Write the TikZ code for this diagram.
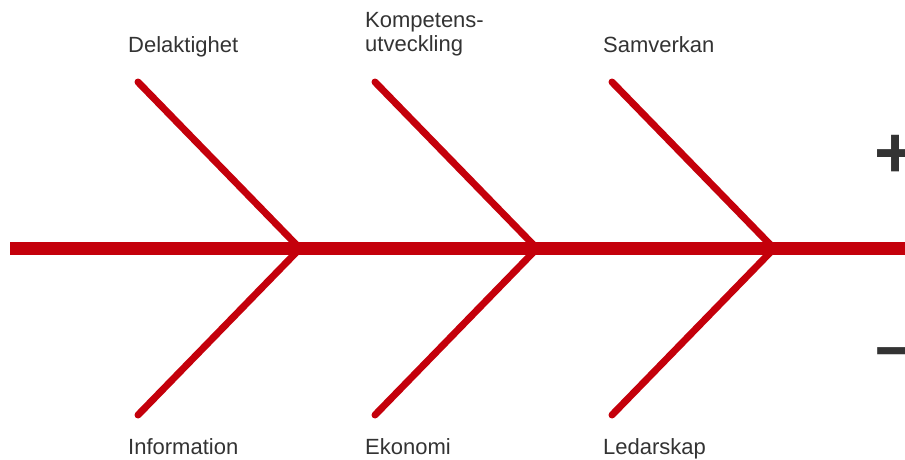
\documentclass[tikz,border=0pt]{standalone}
\usepackage{fontspec}
\setmainfont{Liberation Sans}
\usepackage{tikz}
\usetikzlibrary{positioning}
\definecolor{rouge}{RGB}{196,0,11}
\definecolor{gris}{RGB}{51,51,51}

\begin{document}
\begin{tikzpicture}[x=1pt,y=-1pt,
  arete/.style={rouge,line width=7pt,line cap=round,line join=miter},
  dos/.style={rouge,line width=13pt},
  etiq/.style={gris,inner sep=0pt,anchor=base west,align=left,
    font=\fontsize{22}{24}\selectfont},
  signe/.style={gris,inner sep=0pt,font=\fontsize{72}{72}\selectfont\bfseries}]
\useasboundingbox (0,0) rectangle (905,459);
% arete centrale
\coordinate (d) at (10,248.5);
\coordinate (f) at (915,248.5);
\coordinate (j1) at (300,248.5);
\coordinate (j2) at (537,248.5);
\coordinate (j3) at (774,248.5);
\coordinate (h1) at (138,82);
\coordinate (h2) at (375,82);
\coordinate (h3) at (612,82);
\coordinate (b1) at (138,415);
\coordinate (b2) at (375,415);
\coordinate (b3) at (612,415);
\draw[arete] (h1)--(j1)--(b1);
\draw[arete] (h2)--(j2)--(b2);
\draw[arete] (h3)--(j3)--(b3);
\draw[dos] (d)--(f);
% textes
\node[etiq] (del) at (128,52) {Delaktighet};
\node[etiq,anchor=south west] (komp) at (365,56.5) {Kompetens-\\utveckling};
\node[etiq] (sam) at (603,52) {Samverkan};
\node[etiq] (inf) at (128,454) {Information};
\node[etiq] (eko) at (365,454) {Ekonomi};
\node[etiq] (led) at (603,454) {Ledarskap};
\node[signe] (plus) at (895.5,156.5) {+};
\node[signe] (moins) at (895.5,359) {–};
\end{tikzpicture}
\end{document}
